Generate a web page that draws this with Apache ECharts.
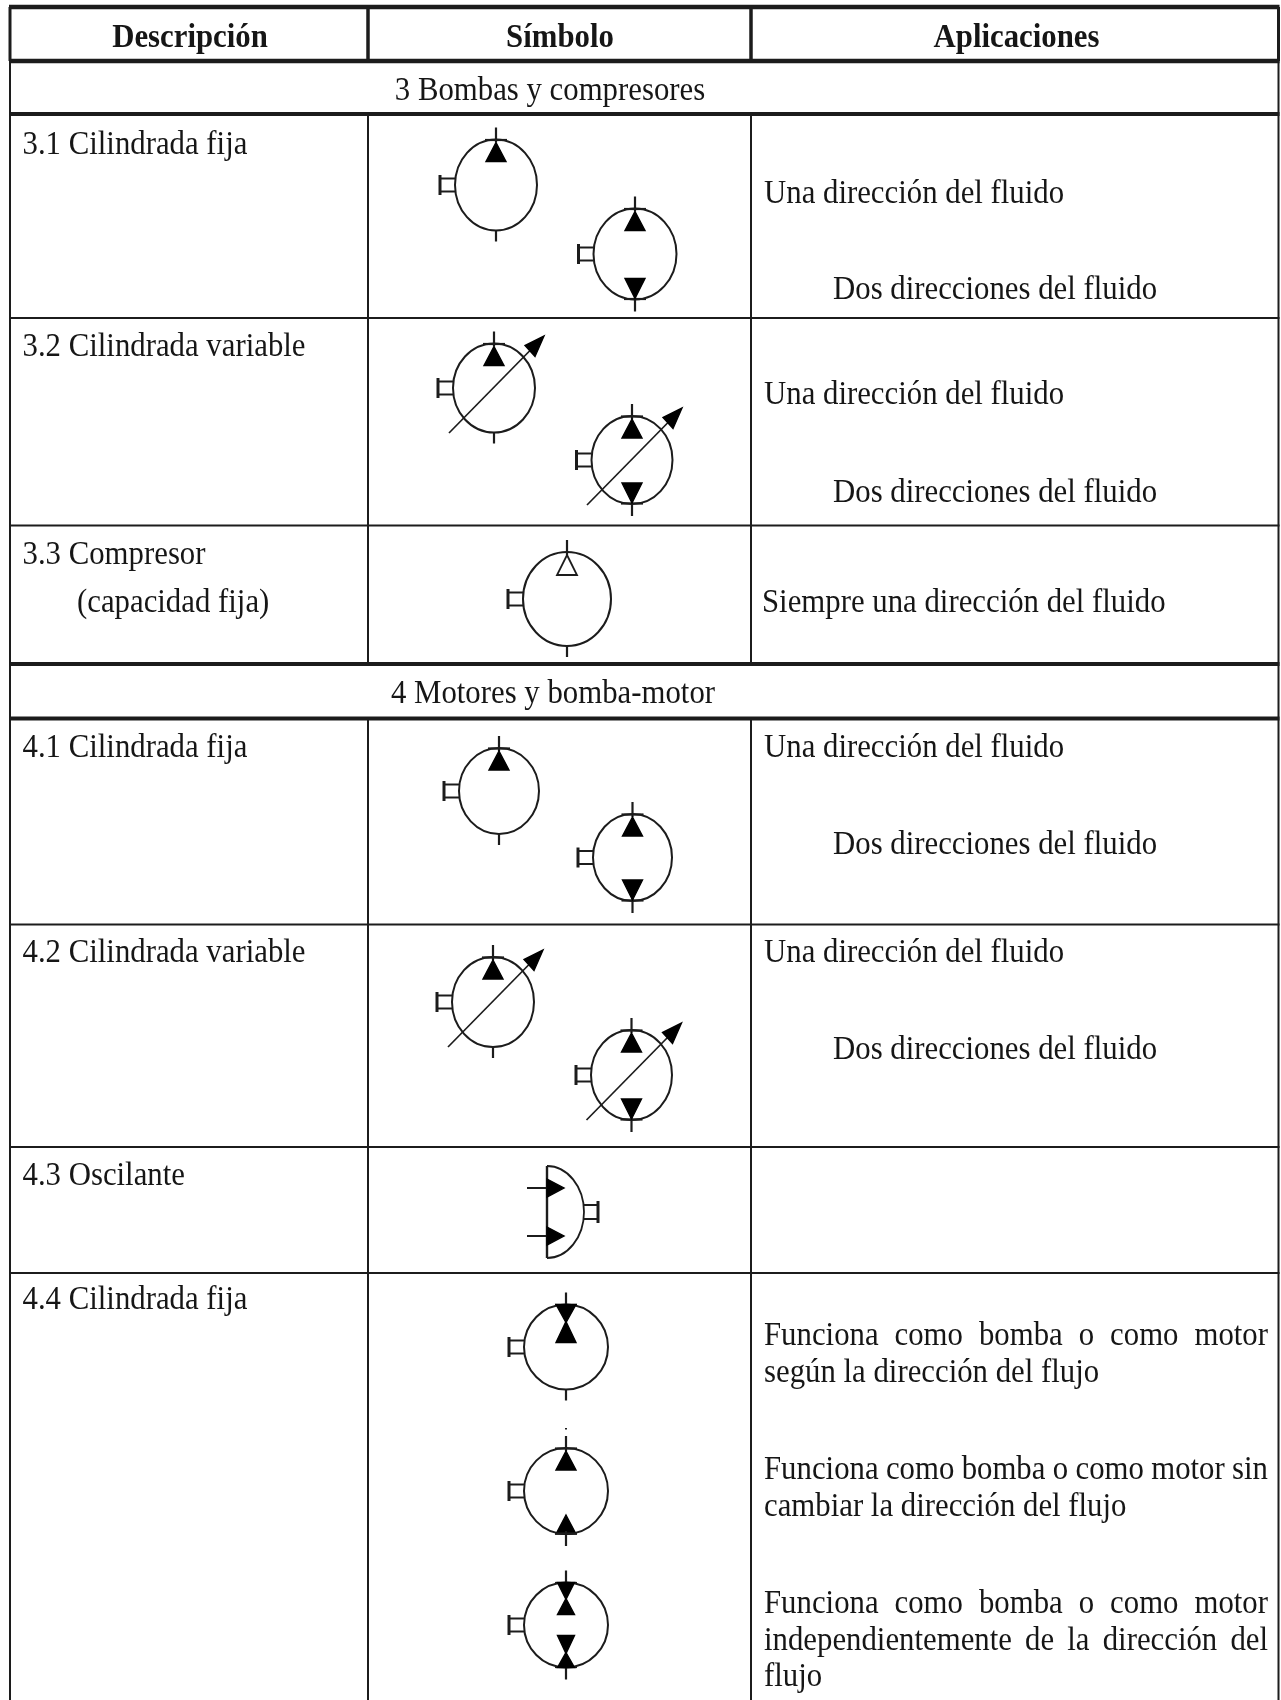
<!DOCTYPE html>
<html><head><meta charset="utf-8">
<style>html,body{margin:0;padding:0;background:#fff}#c{width:1281px;height:1700px;filter:blur(0.4px)}</style>
<script src="https://cdn.jsdelivr.net/npm/echarts@6/dist/echarts.min.js"></script>
</head><body><div id="c"></div>
<script>
// --- content ---
const headers = ['Descripción', 'Símbolo', 'Aplicaciones'];
const sections = ['3 Bombas y compresores', '4 Motores y bomba-motor'];
const descriptions = ['3.1 Cilindrada fija', '3.2 Cilindrada variable', '3.3 Compresor', '(capacidad fija)',
  '4.1 Cilindrada fija', '4.2 Cilindrada variable', '4.3 Oscilante', '4.4 Cilindrada fija'];
const applications = ['Una dirección del fluido', 'Dos direcciones del fluido', 'Una dirección del fluido', 'Dos direcciones del fluido',
  'Siempre una dirección del fluido', 'Una dirección del fluido', 'Dos direcciones del fluido', 'Una dirección del fluido', 'Dos direcciones del fluido',
  'según la dirección del flujo', 'cambiar la dirección del flujo', 'flujo'];
const justified = ['Funciona como bomba o como motor', 'Funciona como bomba o como motor sin', 'Funciona como bomba o como motor', 'independientemente de la dirección del'];

// --- in image units ---
const rowEdges = [7, 61, 114, 318, 525.5, 664, 718.5, 924.5, 1147, 1273];
const rowWeights = [4.5, 4.5, 4, 2, 2, 4, 4, 2, 2, 2];
const columnEdges = [10, 368, 751, 1278.5];
const pageBottom = 1700;
const headerAnchors = [[190, 38], [560, 38], [1016.5, 38]];
const sectionAnchors = [[550, 91], [553, 694]];
const descriptionAnchors = [[22.5, 145], [22.5, 347], [22.5, 555], [77, 603], [22.5, 748], [22.5, 953], [22.5, 1176], [22.5, 1300]];
const applicationAnchors = [[764, 194], [833, 290], [764, 395], [833, 493], [762, 603], [764, 748], [833, 845], [764, 953], [833, 1050],
  [764, 1373], [764, 1507], [764, 1677]];
const justifiedRows = [1336, 1470, 1604, 1641];
const justifiedSpan = [764, 1268];
// cx, cy, rx, ry, kind
const symbolKinds = ['one', 'two', 'hollow', 'oneVar', 'twoVar', 'pmA', 'pmB', 'pmC'];
const symbols = [
  [496, 185, 41, 45.5, 0], [635, 254, 41.5, 45.5, 1],
  [494, 388, 41, 44.5, 3], [632, 460, 40.5, 44, 4],
  [567, 599, 44, 47, 2],
  [499, 791, 40, 43, 0], [632.5, 857.5, 39.5, 43.5, 1],
  [493, 1002, 41, 45, 3], [631.5, 1075, 40.5, 45, 4],
  [566, 1347, 42, 42.5, 5], [566, 1491, 42, 43, 6], [566, 1625, 42, 42.5, 7]
];
const oscillator = [[547, 1212, 37, 46]];

const INK = '#1c1c1c';
const FONT = '"Liberation Serif", "Times New Roman", serif';
const SIZE = 33, SQUEEZE = 0.933;

const measure = document.createElement('canvas').getContext('2d');
function textWidth(t, bold) {
  measure.font = (bold ? 'bold ' : '') + SIZE + 'px ' + FONT;
  return measure.measureText(t).width * SQUEEZE;
}

// text placements: [x, y, string, align, bold]
const placed = [];
headers.forEach((t, i) => placed.push([headerAnchors[i][0], headerAnchors[i][1], t, 'center', 1]));
sections.forEach((t, i) => placed.push([sectionAnchors[i][0], sectionAnchors[i][1], t, 'center', 0]));
descriptions.forEach((t, i) => placed.push([descriptionAnchors[i][0], descriptionAnchors[i][1], t, 'left', 0]));
applications.forEach((t, i) => placed.push([applicationAnchors[i][0], applicationAnchors[i][1], t, 'left', 0]));
justified.forEach((line, i) => {
  const words = line.split(' ');
  const total = words.reduce((s, w) => s + textWidth(w), 0);
  const gap = (justifiedSpan[1] - justifiedSpan[0] - total) / (words.length - 1);
  let x = justifiedSpan[0];
  words.forEach(w => { placed.push([x, justifiedRows[i], w, 'left', 0]); x += textWidth(w) + gap; });
});

// rules: [x1, y1, x2, y2, width]
const rules = [];
rowEdges.forEach((y, i) => rules.push([columnEdges[0] - 1, y, columnEdges[3] + 1, y, rowWeights[i]]));
columnEdges.forEach((x, i) => {
  const outer = i === 0 || i === 3;
  rules.push([x, rowEdges[0], x, rowEdges[1], outer ? 3 : 3.5]);
  if (outer) rules.push([x, rowEdges[1], x, pageBottom, 2]);
  else {
    rules.push([x, rowEdges[2], x, rowEdges[5], 2]);
    rules.push([x, rowEdges[6], x, pageBottom, 2]);
  }
});

function lineEl(a, b, w) {
  return { type: 'line', shape: { x1: a[0], y1: a[1], x2: b[0], y2: b[1] }, style: { stroke: INK, lineWidth: w, fill: null } };
}
function polyEl(pts, hollow) {
  return { type: 'polygon', shape: { points: pts }, style: hollow ? { fill: '#fff', stroke: INK, lineWidth: 1.8 } : { fill: '#000', stroke: '#000', lineWidth: 1.4 } };
}
function ellipseEl(c, rx, ry) {
  return { type: 'ellipse', shape: { cx: c[0], cy: c[1], rx: rx, ry: ry }, style: { fill: null, stroke: INK, lineWidth: 2 } };
}

function renderSymbol(params, api) {
  const cx = api.value(0), cy = api.value(1), rx = api.value(2), ry = api.value(3);
  const kind = symbolKinds[api.value(4)];
  const P = (dx, dy) => api.coord([cx + dx, cy + dy]);
  const T = -ry, B = ry;
  const kids = [ellipseEl(P(0, 0), rx, ry)];
  // shaft port on the left
  const L = -rx - 15, R = -rx;
  kids.push(lineEl(P(L, -10), P(L, 10), 3), lineEl(P(L, -6.5), P(R, -6.5), 2), lineEl(P(L, 6.5), P(R, 6.5), 2));
  const hw = kind === 'pmC' ? 8.5 : 10;
  const up = (apex, base, hollow) => polyEl([P(0, apex), P(hw, base), P(-hw, base)], hollow);
  const down = (base, tip) => polyEl([P(-hw, base), P(hw, base), P(0, tip)]);
  const stemTop = lineEl(P(0, T - 12), P(0, T + 3), 2.2);
  const stemBot = lineEl(P(0, B - 3), P(0, B + 12), 2.2);
  const tickBot = lineEl(P(0, B), P(0, B + 11), 2.2);
  const capTop = lineEl(P(-11, T + 0.5), P(11, T + 0.5), 2.2);
  const capBot = lineEl(P(-11, B - 0.5), P(11, B - 0.5), 2.2);
  kids.push(stemTop);
  if (kind === 'one' || kind === 'oneVar') kids.push(capTop, up(T + 3, T + 22), tickBot);
  if (kind === 'two' || kind === 'twoVar') kids.push(capTop, up(T + 3, T + 22), stemBot, capBot, down(B - 21, B - 1));
  if (kind === 'hollow') kids.push(up(T + 3, T + 23, true), tickBot);
  if (kind === 'pmA') kids.push(capTop, down(T, T + 18), up(T + 17, T + 38), tickBot);
  if (kind === 'pmB') {
    kids.push(capTop, up(T + 3, T + 22), up(B - 19, B), stemBot, capBot);
    kids.push(lineEl(P(0, T - 20), P(0, T - 18.5), 2));
  }
  if (kind === 'pmC') kids.push(capTop, down(T, T + 17), up(T + 16, T + 32), stemBot, capBot, down(B - 32, B - 14), up(B - 15, B));
  if (kind === 'oneVar' || kind === 'twoVar') {
    const tail = P(-45, 45), tip = P(50, -52);
    const neck = [cx + 37, cy - 38.5];
    kids.push(lineEl(tail, api.coord(neck), 1.7));
    kids.push(polyEl([tip, api.coord([neck[0] + 4, neck[1] + 7]), api.coord([neck[0] - 6, neck[1] - 4])]));
  }
  return { type: 'group', children: kids };
}

function renderOscillator(params, api) {
  const cx = api.value(0), cy = api.value(1), rx = api.value(2), ry = api.value(3);
  const P = (dx, dy) => api.coord([cx + dx, cy + dy]);
  const c = P(0, 0);
  const kids = [{
    type: 'arc',
    shape: { cx: 0, cy: 0, r: 1, startAngle: -Math.PI / 2, endAngle: Math.PI / 2 },
    x: c[0], y: c[1], scaleX: rx, scaleY: ry,
    style: { fill: null, stroke: INK, lineWidth: 2, strokeNoScale: true }
  }];
  kids.push(lineEl(P(0, -ry), P(0, ry), 2.4));
  [-24, 24].forEach(dy => {
    kids.push(lineEl(P(-20, dy), P(0, dy), 2));
    kids.push(polyEl([P(0, dy - 9), P(17, dy), P(0, dy + 9)]));
  });
  kids.push(lineEl(P(rx + 14, -11), P(rx + 14, 11), 3), lineEl(P(rx, -7), P(rx + 14, -7), 2), lineEl(P(rx, 7), P(rx + 14, 7), 2));
  return { type: 'group', children: kids };
}

const chart = echarts.init(document.getElementById('c'), null, { renderer: 'canvas' });
chart.setOption({
  animation: false,
  backgroundColor: '#ffffff',
  grid: { left: 0, right: 0, top: 0, bottom: 0, containLabel: false },
  xAxis: { type: 'value', min: 0, max: 1281, show: false },
  yAxis: { type: 'value', min: 0, max: 1700, inverse: true, show: false },
  series: [
    {
      type: 'custom', coordinateSystem: 'cartesian2d', silent: true, clip: false, name: 'rules', data: rules,
      renderItem: (p, api) => lineEl(api.coord([api.value(0), api.value(1)]), api.coord([api.value(2), api.value(3)]), api.value(4))
    },
    { type: 'custom', coordinateSystem: 'cartesian2d', silent: true, clip: false, name: 'symbols', data: symbols, renderItem: renderSymbol },
    { type: 'custom', coordinateSystem: 'cartesian2d', silent: true, clip: false, name: 'oscillator', data: oscillator, renderItem: renderOscillator },
    {
      type: 'custom', coordinateSystem: 'cartesian2d', silent: true, clip: false, name: 'labels',
      data: placed.map((d, i) => [d[0], d[1], i]),
      renderItem: (p, api) => {
        const d = placed[api.value(2)];
        const c = api.coord([d[0], d[1]]);
        return {
          type: 'text', x: c[0], y: c[1], scaleX: SQUEEZE,
          style: { text: d[2], x: 0, y: 0, align: d[3], verticalAlign: 'middle', fill: '#161616',
            font: (d[4] ? 'bold ' : '') + SIZE + 'px ' + FONT }
        };
      }
    }
  ]
});
</script></body></html>
